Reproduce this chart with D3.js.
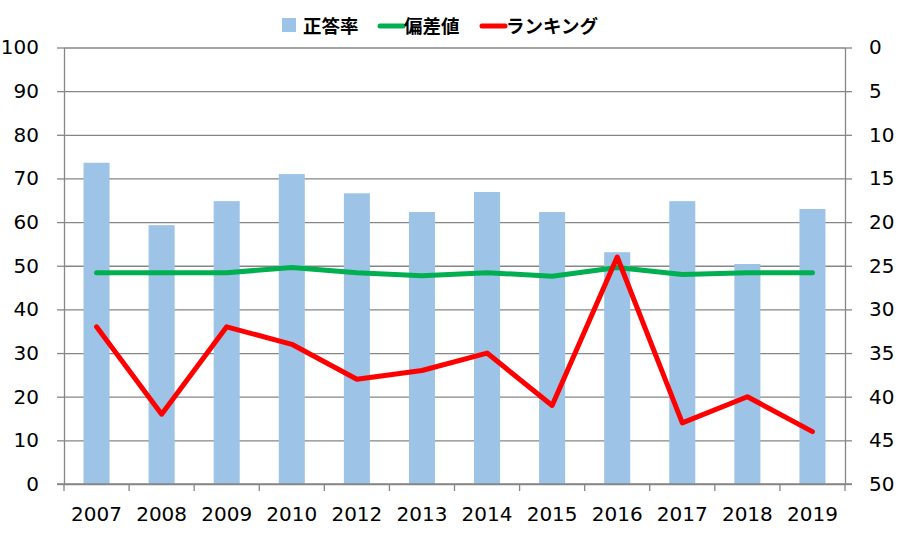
<!DOCTYPE html>
<html>
<head>
<meta charset="utf-8">
<script src="https://cdn.jsdelivr.net/npm/d3@7"></script>
<style>
    body { margin: 0; background: #fff; overflow: hidden; }
    svg { display: block; }
</style>
</head>
<body>
<svg id="main-svg" width="905" height="546"></svg>
<script>
'use strict';

// data
const years = ['2007', '2008', '2009', '2010', '2012', '2013', '2014', '2015', '2016', '2017', '2018', '2019'];
const correct_rate = [73.6, 59.3, 64.8, 71.0, 66.6, 62.3, 66.9, 62.3, 53.1, 64.8, 50.4, 63.0];
const deviation = [48.4, 48.4, 48.4, 49.6, 48.4, 47.7, 48.4, 47.6, 49.6, 48.0, 48.4, 48.4];
const ranking = [32, 42, 32, 34, 38, 37, 35, 41, 24, 43, 40, 44];
const left_ticks = [0, 10, 20, 30, 40, 50, 60, 70, 80, 90, 100];
const right_ticks = [0, 5, 10, 15, 20, 25, 30, 35, 40, 45, 50];
const legend_names = ['正答率', '偏差値', 'ランキング'];

const colors = {
    'bar': '#9DC3E6',
    'dev': '#00B050',
    'rank': '#FF0000',
    'grid': '#868686',
    'text': '#000000',
};

const plot = {left: 64, right: 845, top: 47.5, bottom: 484};
const num_font = '"DejaVu Sans", Verdana, sans-serif';
const jp_font = '"Noto Sans CJK JP", "Noto Sans", sans-serif';
const num_size = 20;

const svg = d3.select('#main-svg');

const x = d3.scaleBand()
    .domain(years)
    .range([plot.left, plot.right])
    .padding(0);

const y_left = d3.scaleLinear().domain([0, 100]).range([plot.bottom, plot.top]);
const y_right = d3.scaleLinear().domain([0, 50]).range([plot.top, plot.bottom]);

// gridlines
svg.append('g')
    .attr('transform', `translate(${plot.left},0)`)
    .call(d3.axisLeft(y_left).tickValues(left_ticks).tickSize(-(plot.right - plot.left)).tickFormat(''))
    .call(g => g.select('.domain').remove())
    .call(g => g.selectAll('line').attr('stroke', colors.grid).attr('stroke-width', 1.3));

// bars
const bw = x.bandwidth() * 0.4;
svg.append('g').selectAll('rect')
    .data(years)
    .enter().append('rect')
    .attr('x', (d) => x(d) + (x.bandwidth() - bw) / 2)
    .attr('width', bw)
    .attr('y', (d, i) => y_left(correct_rate[i]))
    .attr('height', (d, i) => y_left(0) - y_left(correct_rate[i]))
    .attr('fill', colors.bar);

// left axis
svg.append('g')
    .attr('transform', `translate(${plot.left},0)`)
    .call(d3.axisLeft(y_left).tickValues(left_ticks).tickSize(7).tickSizeOuter(0).tickPadding(18))
    .call(g => g.select('.domain').attr('stroke', colors.grid).attr('stroke-width', 1.3))
    .call(g => g.selectAll('line').attr('stroke', colors.grid).attr('stroke-width', 1.3))
    .call(g => g.selectAll('text').attr('font-family', num_font).attr('font-size', num_size).attr('fill', colors.text));

// right axis
svg.append('g')
    .attr('transform', `translate(${plot.right},0)`)
    .call(d3.axisRight(y_right).tickValues(right_ticks).tickSize(7).tickSizeOuter(0).tickPadding(17))
    .call(g => g.select('.domain').attr('stroke', colors.grid).attr('stroke-width', 1.3))
    .call(g => g.selectAll('line').attr('stroke', colors.grid).attr('stroke-width', 1.3))
    .call(g => g.selectAll('text').attr('font-family', num_font).attr('font-size', num_size).attr('fill', colors.text));

// bottom axis: ticks at category boundaries
svg.append('g')
    .attr('transform', `translate(0,${plot.bottom})`)
    .call(d3.axisBottom(x).tickSize(0).tickPadding(23))
    .call(g => g.select('.domain').remove())
    .call(g => g.selectAll('text').attr('font-family', num_font).attr('font-size', num_size).attr('fill', colors.text));

const bounds = years.map((d) => x(d)).concat([plot.right]);
svg.append('g').selectAll('line')
    .data(bounds)
    .enter().append('line')
    .attr('x1', (d) => d).attr('x2', (d) => d)
    .attr('y1', plot.bottom).attr('y2', plot.bottom + 7)
    .attr('stroke', colors.grid).attr('stroke-width', 1.3);

svg.append('line')
    .attr('x1', plot.left - 7).attr('x2', plot.right + 7)
    .attr('y1', plot.bottom).attr('y2', plot.bottom)
    .attr('stroke', colors.grid).attr('stroke-width', 1.3);

// lines
const cx = (d) => x(d) + x.bandwidth() / 2;

const dev_line = d3.line()
    .x((d, i) => cx(years[i]))
    .y((d) => y_left(d));

const rank_line = d3.line()
    .x((d, i) => cx(years[i]))
    .y((d) => y_right(d));

svg.append('path')
    .datum(deviation)
    .attr('d', dev_line)
    .attr('fill', 'none')
    .attr('stroke', colors.dev)
    .attr('stroke-width', 5)
    .attr('stroke-linecap', 'round')
    .attr('stroke-linejoin', 'round');

svg.append('path')
    .datum(ranking)
    .attr('d', rank_line)
    .attr('fill', 'none')
    .attr('stroke', colors.rank)
    .attr('stroke-width', 5)
    .attr('stroke-linecap', 'round')
    .attr('stroke-linejoin', 'round');

// legend
const legend = svg.append('g');
const legend_x = [282, 380, 482];

legend.append('rect')
    .attr('x', legend_x[0]).attr('y', 18)
    .attr('width', 14).attr('height', 14)
    .attr('fill', colors.bar);

[colors.dev, colors.rank].forEach((c, i) => {
    legend.append('line')
        .attr('x1', legend_x[i + 1]).attr('x2', legend_x[i + 1] + 23)
        .attr('y1', 26).attr('y2', 26)
        .attr('stroke', c)
        .attr('stroke-width', 5)
        .attr('stroke-linecap', 'round');
});

legend.selectAll('text')
    .data(legend_names)
    .enter().append('text')
    .attr('x', (d, i) => i == 0 ? legend_x[0] + 21 : legend_x[i] + 24)
    .attr('y', 33)
    .attr('font-family', jp_font)
    .attr('font-weight', 'bold')
    .attr('font-size', 18.5)
    .attr('fill', colors.text)
    .text((d) => d);
</script>
</body>
</html>
